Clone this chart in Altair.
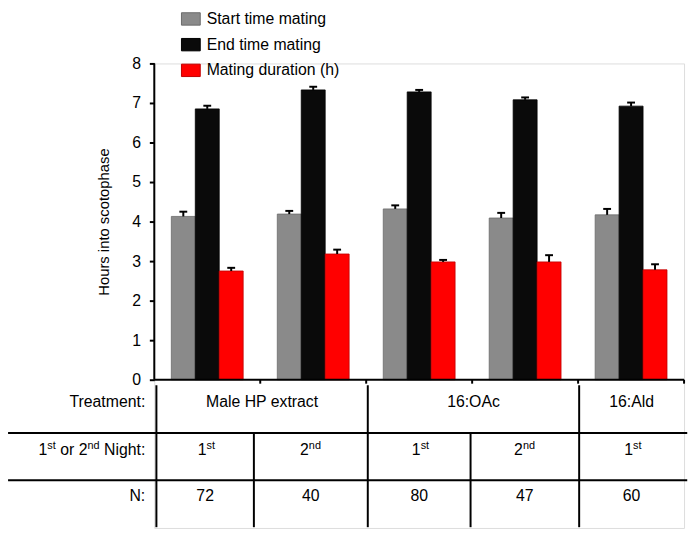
import altair as alt
import pandas as pd

# ---------------- data ----------------
groups = ["Male HP extract / 1st", "Male HP extract / 2nd", "16:OAc / 1st", "16:OAc / 2nd", "16:Ald / 1st"]
series = ["Start time mating", "End time mating", "Mating duration (h)"]
start_mean = [4.13, 4.19, 4.32, 4.09, 4.17]
start_se = [0.12, 0.08, 0.09, 0.13, 0.15]
end_mean = [6.85, 7.33, 7.28, 7.08, 6.92]
end_se = [0.08, 0.08, 0.05, 0.06, 0.09]
dur_mean = [2.75, 3.18, 2.98, 2.98, 2.78]
dur_se = [0.08, 0.11, 0.05, 0.17, 0.14]

treatments = ["Male HP extract", "16:OAc", "16:Ald"]
treatment_span = [2, 2, 1]
night_num = ["1", "2", "1", "2", "1"]
night_sup = ["st", "nd", "st", "nd", "st"]
n_values = ["72", "40", "80", "47", "60"]
row_labels = ["Treatment:", "N:"]
y_ticks = [0, 1, 2, 3, 4, 5, 6, 7, 8]

# ---------------- styles / layout ----------------
FONT = "Liberation Sans"
fill_colors = ["#8a8a8a", "#0a0a0a", "#ff0000"]
stroke_colors = ["#6a6a6a", "#000000", "#c00000"]
NG = len(groups)
XS = alt.Scale(domain=[0, NG], nice=False, zero=False)
YS = alt.Scale(domain=[-3.75, 8], nice=False, zero=False)
BW = 0.226      # bar width in group units
CAP = 0.037     # half cap width

# table grid (in chart units)
col_edges = [0.02, 0.94, 2.015, 2.985, 4.01, 5.0]
row_lines = [-1.345, -2.54]
table_top = -0.14
table_bottom = -3.73
table_left = -1.38
table_right = 5.03
row_text_y = [-0.575, -1.785, -2.95]
label_right_x = -0.085

# ---------------- bar data ----------------
means = [start_mean, end_mean, dur_mean]
ses = [start_se, end_se, dur_se]
rows = []
for k, s in enumerate(series):
    for g in range(NG):
        rows.append({"g": g, "k": k, "series": s, "value": means[k][g], "err": ses[k][g]})
bar_df = pd.DataFrame(rows)

base = alt.Chart(bar_df).transform_calculate(
    xc=f"datum.g + 0.5 + (datum.k - 1) * {BW}",
).transform_calculate(
    x1=f"datum.xc - {BW/2}", x2=f"datum.xc + {BW/2}",
    c1=f"datum.xc - {CAP}", c2=f"datum.xc + {CAP}",
    top="datum.value + datum.err", zero0="0",
)

def XQ(f):
    return alt.X(f, type="quantitative", scale=XS, axis=None)

def YQ(f):
    return alt.Y(f, type="quantitative", scale=YS, axis=None)

y_axis = alt.Axis(
    values=y_ticks, domain=False, grid=False, tickSize=5, tickWidth=2,
    tickColor="black", labelFontSize=16, labelColor="black", labelPadding=9,
    labelFont=FONT, title="Hours into scotophase", titleFontSize=15,
    titleFontWeight="normal", titleColor="black", titleFont=FONT,
    titleX=-51, titleY=160, titleBaseline="middle", titleAngle=270,
)

legend = alt.Legend(
    orient="none", legendX=27, legendY=-55, title=None,
    symbolType="M-1,-0.66L1,-0.66L1,0.66L-1,0.66Z", symbolSize=361,
    symbolStrokeWidth=1, labelFontSize=16, labelFont=FONT, labelColor="black",
    labelOffset=6, rowPadding=7, padding=0, labelLimit=300,
)

bars = base.mark_bar(strokeWidth=0.8).encode(
    x=XQ("x1"), x2="x2:Q",
    y=alt.Y("value:Q", scale=YS, axis=y_axis), y2="zero0:Q",
    color=alt.Color("series:N", scale=alt.Scale(domain=series, range=fill_colors), legend=legend),
    stroke=alt.Stroke("series:N", scale=alt.Scale(domain=series, range=stroke_colors), legend=legend),
)
stems = base.mark_rule(color="black", strokeWidth=2).encode(
    x=XQ("xc"), y=YQ("value"), y2="top:Q")
caps = base.mark_rule(color="black", strokeWidth=2).encode(
    x=XQ("c1"), x2="c2:Q", y=YQ("top"))

# ---------------- axes drawn as rules ----------------
axis_y_df = pd.DataFrame({"x": [0], "y1": [min(y_ticks)], "y2": [max(y_ticks)]})
axis_y = alt.Chart(axis_y_df).mark_rule(color="black", strokeWidth=2).encode(
    x=XQ("x"), y=YQ("y1"), y2="y2:Q")
axis_x_df = pd.DataFrame({"x1": [0], "x2": [NG], "y": [0]})
axis_x = alt.Chart(axis_x_df).mark_rule(color="black", strokeWidth=2).encode(
    x=XQ("x1"), x2="x2:Q", y=YQ("y"))
xt_df = pd.DataFrame({"x": list(range(1, NG + 1)), "y1": [0] * NG, "y2": [-0.1] * NG})
x_ticks = alt.Chart(xt_df).mark_rule(color="black", strokeWidth=2).encode(
    x=XQ("x"), y=YQ("y1"), y2="y2:Q")

# ---------------- table lines ----------------
h_df = pd.DataFrame({"y": row_lines, "x1": [table_left] * 2, "x2": [table_right] * 2})
h_lines = alt.Chart(h_df).mark_rule(color="black", strokeWidth=2).encode(
    x=XQ("x1"), x2="x2:Q", y=YQ("y"))
tb = [0]
for s in treatment_span:
    tb.append(tb[-1] + s)
v_rows = []
for i in range(len(col_edges) - 1):
    v_rows.append({"x": col_edges[i], "y1": table_top if i in tb else row_lines[0], "y2": table_bottom})
v_df = pd.DataFrame(v_rows)
v_lines = alt.Chart(v_df).mark_rule(color="black", strokeWidth=2).encode(
    x=XQ("x"), y=YQ("y1"), y2="y2:Q")

# ---------------- table text ----------------
def text_layer(df, align="center", size=16, dx=0, dy=0):
    return alt.Chart(df).mark_text(
        align=align, baseline="middle", fontSize=size, font=FONT, color="black", dx=dx, dy=dy
    ).encode(x=XQ("x"), y=YQ("y"), text="t:N")

col_centers = [(col_edges[i] + col_edges[i + 1]) / 2 for i in range(NG)]
tr_x = [(col_edges[tb[i]] + col_edges[tb[i + 1]]) / 2 for i in range(len(treatments))]
tr_df = pd.DataFrame({"x": tr_x, "y": [row_text_y[0]] * len(treatments), "t": treatments})
n_df = pd.DataFrame({"x": col_centers, "y": [row_text_y[2]] * NG, "t": n_values})

layers = [bars, stems, caps, axis_y, axis_x, x_ticks, h_lines, v_lines,
          text_layer(tr_df), text_layer(n_df)]

for sup, dxv in [("st", 1.5), ("nd", -2)]:
    idx = [i for i in range(NG) if night_sup[i] == sup]
    main_df = pd.DataFrame({"x": [col_centers[i] for i in idx], "y": [row_text_y[1]] * len(idx),
                            "t": [night_num[i] for i in idx]})
    sup_df = pd.DataFrame({"x": [col_centers[i] for i in idx], "y": [row_text_y[1]] * len(idx),
                           "t": [night_sup[i] for i in idx]})
    layers.append(text_layer(main_df, align="right", dx=dxv))
    layers.append(text_layer(sup_df, align="left", size=11, dx=dxv, dy=-4))

# row labels
rl_df = pd.DataFrame({"x": [label_right_x] * 2, "y": [row_text_y[0], row_text_y[2]], "t": row_labels})
layers.append(text_layer(rl_df, align="right"))
# "1st or 2nd Night:" assembled from normal and superscript pieces
pieces = [("1", 16, -108.0, 0), ("st", 11, -99.1, -4), ("or 2", 16, -86.0, 0),
          ("nd", 11, -58.4, -4), ("Night:", 16, -41.7, 0)]
for t, size, dxv, dyv in pieces:
    pdf = pd.DataFrame({"x": [label_right_x], "y": [row_text_y[1]], "t": [t]})
    layers.append(text_layer(pdf, align="left", size=size, dx=dxv, dy=dyv))

chart = alt.layer(*layers).resolve_axis(x="independent", y="independent").properties(
    width=536, height=470,
    autosize=alt.AutoSizeParams(type="none"),
    padding={"left": 148, "top": 53, "right": 5, "bottom": 2},
).configure_view(stroke=None).configure(font=FONT, background="white")

chart.save("out.html", embed_options={"renderer": "svg", "actions": False})
